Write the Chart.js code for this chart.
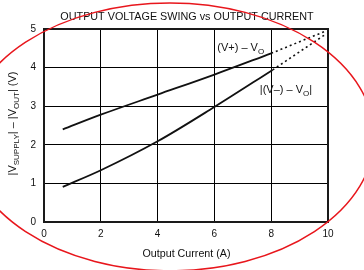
<!DOCTYPE html>
<html><head><meta charset="utf-8">
<script src="https://cdn.jsdelivr.net/npm/chart.js@4/dist/chart.umd.min.js"></script>
<style>html,body{margin:0;padding:0;background:#fff}#wrap{width:364px;height:270px}</style>
</head><body><div id="wrap"><canvas id="c" width="364" height="270"></canvas></div>
<script>
// ---- data ----
const chartTitle = "OUTPUT VOLTAGE SWING vs OUTPUT CURRENT";
const xAxisTitle = "Output Current (A)";
const xTickValues = [0, 2, 4, 6, 8, 10];
const yTickValues = [0, 1, 2, 3, 4, 5];
const currentUpper = [0.66, 2, 4, 6, 8];
const swingUpper = [2.40, 2.78, 3.30, 3.82, 4.37];
const currentLower = [0.66, 2, 4, 6, 8.05];
const swingLower = [0.91, 1.34, 2.09, 2.98, 3.94];
const currentUpperExt = [8, 9.9];
const swingUpperExt = [4.37, 4.94];
const currentLowerExt = [8.05, 9.95];
const swingLowerExt = [3.94, 4.88];
const seriesLabelX = [6.1, 7.6];
const seriesLabelY = [4.42, 3.33];

const FONT = "'Liberation Sans', Arial, sans-serif";
const pts = (xs, ys) => xs.map((x, i) => ({x, y: ys[i]}));

function drawRich(ctx, parts, x, y, size, subSize, align) {
  let w = 0;
  parts.forEach(p => { ctx.font = (p.sub ? subSize : size) + "px " + FONT; p.w = ctx.measureText(p.t).width; w += p.w; });
  let cx = align === 'center' ? x - w / 2 : x;
  ctx.textAlign = 'left'; ctx.textBaseline = 'alphabetic';
  parts.forEach(p => {
    ctx.font = (p.sub ? subSize : size) + "px " + FONT;
    ctx.fillText(p.t, cx, y + (p.sub ? 3 : 0));
    cx += p.w;
  });
}

const decor = {
  id: 'decor',
  beforeDatasetsDraw(chart) {
    const {ctx, chartArea: a} = chart;
    ctx.save();
    ctx.strokeStyle = '#1a1a1a'; ctx.lineWidth = 2;
    ctx.strokeRect(a.left, a.top, a.right - a.left, a.bottom - a.top);
    ctx.restore();
  },
  afterDraw(chart) {
    const {ctx, chartArea: a, scales: {x, y}} = chart;
    const W = chart.width, H = chart.height;
    ctx.save();
    ctx.fillStyle = '#111';
    // chart title
    ctx.font = "10.8px " + FONT; ctx.textAlign = 'center'; ctx.textBaseline = 'alphabetic';
    ctx.fillText(chartTitle, (a.left + a.right) / 2 + 1, 19.5);
    // x title
    ctx.font = "10.7px " + FONT;
    ctx.fillText(xAxisTitle, (a.left + a.right) / 2 + 0.5, 257);
    // y title (rotated)
    ctx.save();
    ctx.translate(15.5, (a.top + a.bottom) / 2 - 2);
    ctx.rotate(-Math.PI / 2);
    drawRich(ctx, [{t: "|V"}, {t: "SUPPLY", sub: 1}, {t: "| \u2013 |V"}, {t: "OUT", sub: 1}, {t: "| (V)"}], 0, 0, 11, 8, 'center');
    ctx.restore();
    // series labels
    drawRich(ctx, [{t: "(V+) \u2013 V"}, {t: "O", sub: 1}], x.getPixelForValue(seriesLabelX[0]), y.getPixelForValue(seriesLabelY[0]), 11, 8, 'left');
    drawRich(ctx, [{t: "|(V\u2013) \u2013 V"}, {t: "O", sub: 1}, {t: "|"}], x.getPixelForValue(seriesLabelX[1]), y.getPixelForValue(seriesLabelY[1]), 11, 8, 'left');
    // red hand-drawn ellipse annotation
    ctx.strokeStyle = '#e8161c'; ctx.lineWidth = 1.5;
    ctx.beginPath();
    ctx.ellipse(W * 0.467, H * 0.507, W * 0.561, H * 0.496, 0, 0, Math.PI * 2);
    ctx.stroke();
    ctx.restore();
  }
};

const solid = {borderColor: '#111', borderWidth: 1.8, pointRadius: 0, showLine: true, fill: false, cubicInterpolationMode: 'monotone'};
const dotted = {borderColor: '#111', borderWidth: 1.6, borderDash: [2, 3], pointRadius: 0, showLine: true, fill: false};

new Chart(document.getElementById('c'), {
  type: 'scatter',
  data: {datasets: [
    {...solid, data: pts(currentUpper, swingUpper)},
    {...solid, data: pts(currentLower, swingLower)},
    {...dotted, data: pts(currentUpperExt, swingUpperExt)},
    {...dotted, data: pts(currentLowerExt, swingLowerExt)}
  ]},
  options: {
    responsive: false, animation: false, devicePixelRatio: 1,
    layout: {padding: {top: 29, right: 36, left: 0, bottom: 0}},
    plugins: {legend: {display: false}, tooltip: {enabled: false}, title: {display: false}},
    scales: {
      x: {
        type: 'linear', min: 0, max: 10,
        afterFit: s => { s.height = 48; },
        afterBuildTicks: s => { s.ticks = xTickValues.map(v => ({value: v})); },
        grid: {color: '#000', lineWidth: 1, drawTicks: false},
        border: {display: true, color: '#1a1a1a', width: 2},
        ticks: {color: '#111', font: {family: FONT, size: 10}, padding: 6, maxRotation: 0}
      },
      y: {
        type: 'linear', min: 0, max: 5,
        afterFit: s => { s.width = 44; },
        afterBuildTicks: s => { s.ticks = yTickValues.map(v => ({value: v})); },
        grid: {color: '#000', lineWidth: 1, drawTicks: false},
        border: {display: true, color: '#1a1a1a', width: 2},
        ticks: {color: '#111', font: {family: FONT, size: 10}, padding: 8}
      }
    }
  },
  plugins: [decor]
});
</script></body></html>
